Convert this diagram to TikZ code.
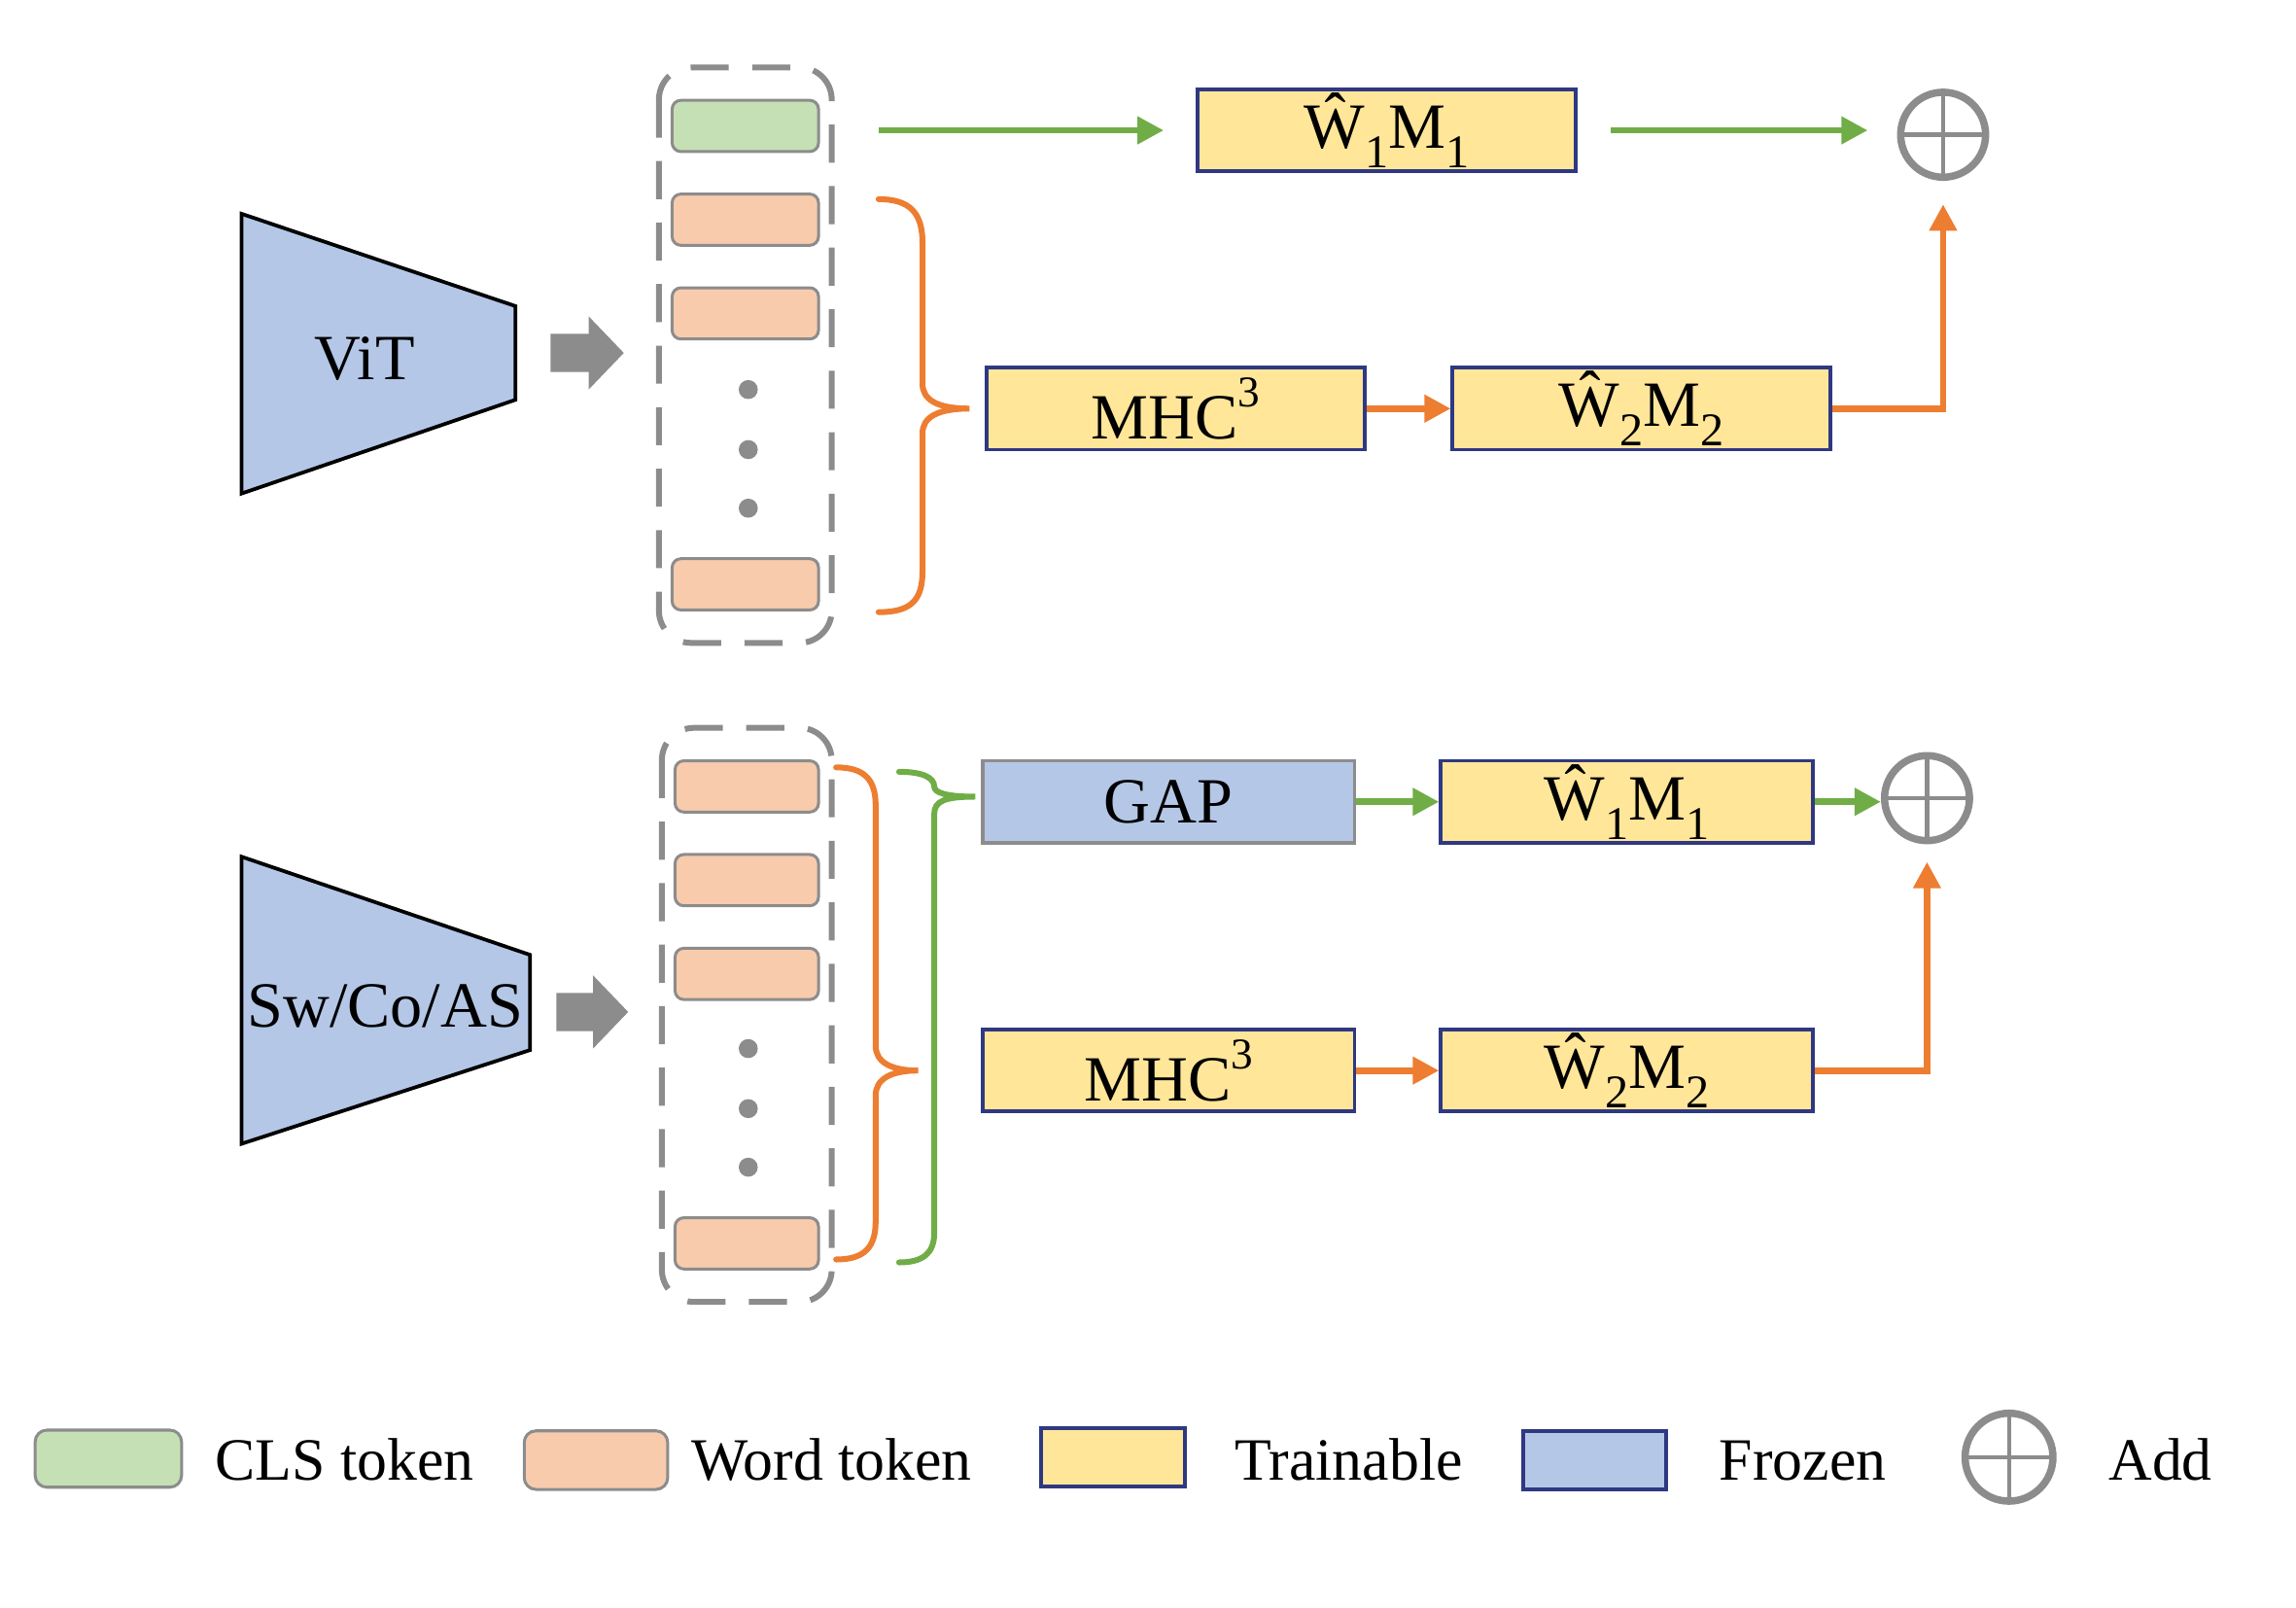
\documentclass[tikz,border=0pt]{standalone}
\usepackage{fontspec}
\setmainfont{Liberation Serif}
\usetikzlibrary{arrows.meta,calc}
\definecolor{frz}{HTML}{B4C7E7}
\definecolor{trn}{HTML}{FFE699}
\definecolor{navy}{RGB}{47,56,130}
\definecolor{clsg}{HTML}{C5E0B4}
\definecolor{wordo}{HTML}{F8CBAD}
\definecolor{gline}{HTML}{70AD47}
\definecolor{oline}{HTML}{ED7D31}
\definecolor{gr}{HTML}{8C8C8C}
\newcommand{\lsub}[1]{\raisebox{-0.3em}{\fontsize{32}{32}\selectfont #1}}
\newcommand{\lsup}[1]{\raisebox{0.5em}{\fontsize{30}{30}\selectfont #1}}
\begin{document}
\begin{tikzpicture}[x=1pt,y=-1pt,
  trnbox/.style={draw=navy, line width=2.5pt, fill=trn, minimum width=258pt, minimum height=56pt, inner sep=0pt, font=\fontsize{44}{44}\selectfont},
  frzbox/.style={draw=gr, line width=2.5pt, fill=frz, minimum width=254pt, minimum height=56pt, inner sep=0pt, font=\fontsize{44}{44}\selectfont},
  tok/.style={draw=gr, line width=2pt, rounded corners=6pt, minimum width=100pt, minimum height=35pt, inner sep=0pt},
  clstok/.style={tok, fill=clsg},
  wordtok/.style={tok, fill=wordo},
  garr/.style={draw=gline, line width=4.5pt, -{Triangle[length=18pt,width=18pt]}},
  oarr/.style={draw=oline, line width=4.5pt, -{Triangle[length=18pt,width=18pt]}},
  gbrace/.style={draw=gline, line width=4pt, line cap=round},
  obrace/.style={draw=oline, line width=4pt, line cap=round},
  addc/.style={circle, draw=gr, line width=5pt, minimum size=58pt, inner sep=0pt,
    path picture={\draw[gr, line width=3pt] (path picture bounding box.north) -- (path picture bounding box.south) (path picture bounding box.west) -- (path picture bounding box.east);}},
  dashbox/.style={draw=gr, line width=4pt, rounded corners=22pt, dash pattern=on 26pt off 16pt},
  blockarr/.style={fill=gr},
  dotmark/.style={fill=gr},
  trap/.style={fill=frz, draw=black, line width=2.5pt},
  lbl/.style={font=\fontsize{44}{44}\selectfont, inner sep=0pt},
  leg/.style={font=\fontsize{41}{41}\selectfont, inner sep=0pt, anchor=base west}
]
\useasboundingbox (0,0) rectangle (1568,1097.4);

% ---------------- top branch ----------------
\draw[trap] (165,146) -- (352,209) -- (352,273) -- (165,337) -- cycle;
\node[lbl] (vit) at (249,245) {ViT};
\fill[blockarr] (376,228) -- (402,228) -- (402,216) -- (426,241) -- (402,266) -- (402,254) -- (376,254) -- cycle;
\draw[dashbox] (450,46) rectangle (568,439);
\node[clstok] (c0) at (509,86) {};
\node[wordtok] (t1) at (509,150) {};
\node[wordtok] (t2) at (509,214) {};
\node[wordtok] (t3) at (509,399) {};
\foreach \yy in {266,307,347} \fill[dotmark] (511,\yy) circle (6.5pt);

\node[trnbox] (w1a) at (947,89) {Ŵ\lsub{1}M\lsub{1}};
\node[addc] (adda) at (1327,92) {};
\draw[garr, shorten <=40pt, shorten >=22pt] (w1a.west -| c0.east) -- (w1a.west);
\draw[garr, shorten <=23pt, shorten >=20pt] (w1a.east) -- (w1a.east -| adda.west);

\coordinate (ba) at (662,279);
\draw[obrace] (600,136) .. controls (622,136) and (630,146) .. (630,166) -- (630,262)
  .. controls (630,273) and (640,279) .. (ba)
  .. controls (640,279) and (630,285) .. (630,296) -- (630,390)
  .. controls (630,410) and (622,418) .. (600,418);
\node[trnbox] (mhca) at (803,279) {MHC\lsup{3}};
\node[trnbox] (w2a) at (1121,279) {Ŵ\lsub{2}M\lsub{2}};
\draw[oarr] (mhca.east) -- (w2a.west);
\draw[oarr, shorten >=16pt] (w2a.east) -| (adda.south);

% ---------------- bottom branch ----------------
\draw[trap] (165,585) -- (362,652) -- (362,717) -- (165,781) -- cycle;
\node[lbl] (swin) at (263,687) {Sw/Co/AS};
\fill[blockarr] (380,678) -- (405,678) -- (405,666) -- (429,691) -- (405,716) -- (405,704) -- (380,704) -- cycle;
\draw[dashbox] (452,497) rectangle (568,889);
\node[wordtok, minimum width=98pt] (b1) at (510,537) {};
\node[wordtok, minimum width=98pt] (b2) at (510,601) {};
\node[wordtok, minimum width=98pt] (b3) at (510,665) {};
\node[wordtok, minimum width=98pt] (b4) at (510,849) {};
\foreach \yy in {716,757,797} \fill[dotmark] (511,\yy) circle (6.5pt);

\coordinate (bg) at (666,544);
\draw[gbrace] (614,527) .. controls (630,527) and (638,531) .. (638,537)
  .. controls (638,541) and (645,544) .. (bg)
  .. controls (645,544) and (638,547) .. (638,556) -- (638,842)
  .. controls (638,856) and (630,862) .. (614,862);
\coordinate (bo) at (627,731);
\draw[obrace] (571,524) .. controls (590,524) and (598,532) .. (598,550) -- (598,714)
  .. controls (598,725) and (608,731) .. (bo)
  .. controls (608,731) and (598,737) .. (598,748) -- (598,834)
  .. controls (598,852) and (590,860) .. (571,860);

\node[frzbox] (gap) at (798,547.5) {GAP};
\node[trnbox, minimum width=254pt] (w1b) at (1111,547.5) {Ŵ\lsub{1}M\lsub{1}};
\node[addc] (addb) at (1316,545) {};
\draw[garr] (gap.east) -- (w1b.west);
\draw[garr] (w1b.east) -- (w1b.east -| addb.west);

\node[trnbox, minimum width=254pt] (mhcb) at (798,731) {MHC\lsup{3}};
\node[trnbox, minimum width=254pt] (w2b) at (1111,731) {Ŵ\lsub{2}M\lsub{2}};
\draw[oarr] (mhcb.east) -- (w2b.west);
\draw[oarr, shorten >=12pt] (w2b.east) -| (addb.south);

% ---------------- legend ----------------
\node[clstok, minimum width=100pt, minimum height=39pt, rounded corners=8pt] (lcls) at (74,996) {};
\node[leg] (lclst) at (147,1011) {CLS token};
\node[wordtok, minimum width=98pt, minimum height=40pt, rounded corners=8pt] (lword) at (407,997) {};
\node[leg] (lwordt) at (472,1011) {Word token};
\node[draw=navy, line width=2.5pt, fill=trn, minimum width=98pt, minimum height=40pt, inner sep=0pt] (ltrn) at (760,995) {};
\node[leg] (ltrnt) at (843,1011) {Trainable};
\node[draw=navy, line width=2.5pt, fill=frz, minimum width=98pt, minimum height=40pt, inner sep=0pt] (lfrz) at (1089,997) {};
\node[leg] (lfrzt) at (1174,1011) {Frozen};
\node[addc, minimum size=60pt] (ladd) at (1372,995) {};
\node[leg] (laddt) at (1440,1011) {Add};
\end{tikzpicture}
\end{document}
